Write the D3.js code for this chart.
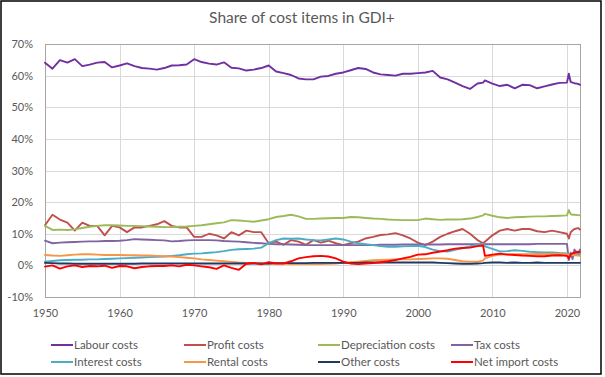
<!DOCTYPE html>
<html>
<head>
<meta charset="utf-8">
<script src="https://cdn.jsdelivr.net/npm/d3@7"></script>
<style>
  body { margin: 0; background: #fff; }
  svg { display: block; font-family: Lato, "Open Sans", sans-serif; }
</style>
</head>
<body>
<div id="chart"></div>
<script>
// time points (annual, quarterly around the 2008/09 break and 2020-21)
const years = [
  1950, 1951, 1952, 1953, 1954, 1955, 1956, 1957, 1958, 1959,
  1960, 1961, 1962, 1963, 1964, 1965, 1966, 1967, 1968, 1969,
  1970, 1971, 1972, 1973, 1974, 1975, 1976, 1977, 1978, 1979,
  1980, 1981, 1982, 1983, 1984, 1985, 1986, 1987, 1988, 1989,
  1990, 1991, 1992, 1993, 1994, 1995, 1996, 1997, 1998, 1999,
  2000, 2001, 2002, 2003, 2004, 2005, 2006, 2007, 2008, 2008.75,
  2009, 2010, 2011, 2012, 2013, 2014, 2015, 2016, 2017, 2018, 2019,
  2020, 2020.25, 2020.5, 2020.75, 2021, 2021.5, 2021.75
];

const labour = [
  64.1, 62.2, 64.9, 64.1, 65.2, 63.0, 63.5, 64.1, 64.3, 62.6,
  63.2, 63.9, 63.0, 62.4, 62.2, 61.9, 62.4, 63.2, 63.3, 63.5,
  65.2, 64.3, 63.8, 63.5, 64.2, 62.5, 62.3, 61.6, 61.9, 62.4,
  63.2, 61.3, 60.8, 60.2, 59.1, 58.8, 58.8, 59.7, 59.9, 60.6,
  61.0, 61.7, 62.4, 62.1, 61.0, 60.4, 60.2, 60.0, 60.6, 60.6,
  60.8, 61.0, 61.5, 59.4, 58.8, 57.8, 56.7, 55.8, 57.5, 57.8,
  58.5, 57.5, 56.7, 57.1, 56.0, 57.1, 57.0, 56.0, 56.6, 57.2, 57.7,
  57.8, 60.6, 58.0, 57.8, 57.6, 57.4, 57.1
];
const profit = [
  12.7, 16.0, 14.5, 13.5, 11.0, 13.5, 12.5, 12.5, 9.5, 12.5,
  12.0, 10.5, 12.0, 12.0, 12.5, 13.0, 14.0, 12.5, 12.0, 12.0,
  9.0, 9.0, 10.0, 9.5, 8.5, 10.5, 9.5, 11.0, 10.5, 10.5,
  7.0, 7.5, 6.5, 8.0, 7.5, 6.5, 8.0, 7.2, 7.8, 7.0,
  6.4, 7.0, 7.5, 8.5, 9.0, 9.6, 9.8, 10.2, 9.5, 8.5,
  7.2, 6.4, 7.5, 9.0, 10.0, 10.8, 11.5, 10.0, 8.0, 7.0,
  7.5, 9.5, 11.0, 11.5, 11.0, 11.5, 11.5, 10.8, 10.5, 11.0, 10.5,
  10.0, 8.5, 10.5, 11.0, 11.5, 11.8, 11.3
];
const depreciation = [
  12.5, 11.2, 11.3, 11.2, 11.4, 11.8, 12.2, 12.5, 12.7, 12.7,
  12.6, 12.5, 12.5, 12.4, 12.3, 12.2, 12.1, 12.1, 12.2, 12.3,
  12.5, 12.7, 13.0, 13.3, 13.6, 14.3, 14.2, 14.0, 13.8, 14.2,
  14.6, 15.3, 15.6, 16.0, 15.5, 14.7, 14.7, 14.8, 14.9, 15.0,
  15.0, 15.3, 15.2, 15.0, 14.8, 14.7, 14.5, 14.4, 14.3, 14.3,
  14.3, 14.8, 14.6, 14.4, 14.5, 14.5, 14.6, 14.8, 15.3, 15.8,
  16.3, 15.7, 15.2, 15.0, 15.2, 15.3, 15.4, 15.5, 15.5, 15.6, 15.7,
  15.8, 17.5, 16.2, 16.0, 16.0, 15.9, 15.8
];
const tax = [
  7.8, 7.0, 7.2, 7.3, 7.4, 7.5, 7.6, 7.6, 7.7, 7.7,
  7.8, 8.0, 8.3, 8.2, 8.1, 8.0, 7.9, 7.6, 7.7, 7.9,
  8.0, 8.0, 8.0, 7.9, 7.7, 7.6, 7.5, 7.3, 7.1, 7.0,
  6.8, 6.7, 6.7, 6.6, 6.5, 6.4, 6.4, 6.4, 6.4, 6.4,
  6.4, 6.4, 6.4, 6.4, 6.4, 6.5, 6.5, 6.5, 6.6, 6.6,
  6.6, 6.6, 6.6, 6.6, 6.7, 6.7, 6.7, 6.7, 6.7, 6.7,
  6.7, 6.7, 6.7, 6.7, 6.7, 6.7, 6.7, 6.8, 6.8, 6.8, 6.8,
  6.8, 1.7, 4.0, 2.0, 5.0, 3.5, 5.0
];
const interest = [
  1.2, 1.4, 1.6, 1.7, 1.8, 1.8, 1.9, 1.9, 2.0, 2.1,
  2.2, 2.3, 2.4, 2.5, 2.6, 2.7, 2.8, 3.0, 3.2, 3.5,
  3.7, 3.8, 4.0, 4.2, 4.5, 4.9, 5.1, 5.2, 5.3, 5.6,
  7.0, 8.0, 8.5, 8.4, 8.5, 8.2, 8.0, 7.9, 8.2, 8.5,
  8.2, 7.5, 7.0, 6.7, 6.4, 6.1, 5.9, 5.9, 6.0, 6.1,
  6.2, 5.8, 5.0, 4.5, 4.4, 4.9, 5.5, 6.0, 6.6, 6.8,
  6.0, 5.2, 4.4, 4.5, 4.8, 4.6, 4.3, 4.2, 4.1, 4.1, 3.9,
  3.8, 3.6, 3.7, 3.7, 3.6, 3.5, 3.5
];
const rental = [
  3.3, 3.1, 3.0, 3.2, 3.4, 3.5, 3.5, 3.4, 3.3, 3.3,
  3.3, 3.2, 3.2, 3.1, 3.1, 3.0, 2.9, 2.8, 2.6, 2.4,
  2.2, 1.9, 1.7, 1.5, 1.3, 1.1, 0.9, 0.8, 0.7, 0.6,
  0.5, 0.5, 0.5, 0.4, 0.4, 0.4, 0.4, 0.4, 0.5, 0.6,
  0.8, 1.0, 1.2, 1.4, 1.6, 1.7, 1.8, 1.9, 1.9, 1.9,
  2.0, 2.1, 2.2, 2.2, 2.1, 1.7, 1.3, 1.2, 1.2, 1.5,
  2.2, 3.0, 3.4, 3.5, 3.5, 3.5, 3.5, 3.6, 3.6, 3.6, 3.6,
  3.5, 3.3, 3.4, 3.3, 3.2, 3.1, 3.0
];
const other = [
  0.8, 0.7, 0.6, 0.6, 0.5, 0.5, 0.5, 0.5, 0.5, 0.5,
  0.5, 0.5, 0.5, 0.6, 0.6, 0.6, 0.6, 0.6, 0.6, 0.6,
  0.6, 0.6, 0.6, 0.6, 0.6, 0.6, 0.6, 0.6, 0.6, 0.6,
  0.6, 0.7, 0.7, 0.7, 0.7, 0.7, 0.8, 0.8, 0.8, 0.8,
  0.8, 0.8, 0.8, 0.9, 0.9, 0.9, 0.9, 0.9, 0.9, 0.9,
  0.9, 0.9, 0.9, 0.8, 0.7, 0.6, 0.5, 0.5, 0.6, 0.7,
  0.8, 0.9, 0.9, 0.8, 0.9, 0.8, 0.8, 0.9, 0.8, 0.8, 0.8,
  0.8, 0.8, 0.8, 0.8, 0.8, 0.8, 0.8
];
const netImport = [
  -0.4, 0.0, -1.0, -0.3, 0.0, -0.5, -0.2, -0.3, -0.1, -0.8,
  -0.2, -0.3, -0.9, -0.5, -0.3, -0.2, -0.2, 0.0, -0.3, 0.2,
  0.0, -0.3, -0.6, -1.1, 0.0, -0.8, -1.4, 0.5, 0.8, 0.3,
  1.0, 0.6, 0.6, 1.3, 2.2, 2.6, 2.9, 3.0, 2.8, 2.2,
  1.2, 0.6, 0.4, 0.6, 0.7, 1.0, 1.3, 1.7, 2.2, 2.7,
  3.4, 3.5, 4.0, 4.4, 4.8, 5.3, 5.5, 5.6, 6.1, 6.3,
  3.0, 3.4, 3.7, 3.4, 3.3, 3.1, 3.0, 2.9, 2.9, 3.1, 3.2,
  3.0, 2.2, 3.5, 3.8, 4.0, 4.3, 4.2
];

const seriesNames = ['Labour costs', 'Profit costs', 'Depreciation costs', 'Tax costs',
                     'Interest costs', 'Rental costs', 'Other costs', 'Net import costs'];
const seriesValues = [labour, profit, depreciation, tax, interest, rental, other, netImport];
const seriesColors = ['#7030A0', '#C0504D', '#9BBB59', '#8064A2',
                      '#4BACC6', '#F79646', '#1F3864', '#FF0000'];

const xTicks = [1950, 1960, 1970, 1980, 1990, 2000, 2010, 2020];
const yTicks = [-10, 0, 10, 20, 30, 40, 50, 60, 70];

const W = 605, H = 377;
const plot = { left: 45, right: 580, top: 44, bottom: 297 };

const svg = d3.select('#chart').append('svg')
    .attr('width', W)
    .attr('height', H);

svg.append('rect')
    .attr('width', W).attr('height', H)
    .attr('fill', '#fff');

// outer frame
svg.append('rect')
    .attr('x', 1).attr('y', 1)
    .attr('width', 600).attr('height', 373)
    .attr('fill', 'none')
    .attr('stroke', '#000')
    .attr('stroke-width', 1.5);

const x = d3.scaleLinear().domain([1950, 2021.75]).range([plot.left, plot.right]);
const y = d3.scaleLinear().domain([-10, 70]).range([plot.bottom, plot.top]);

// gridlines
const grid = svg.append('g');
grid.selectAll('line.h')
  .data(yTicks)
  .join('line')
    .attr('class', 'h')
    .attr('x1', plot.left).attr('x2', plot.right)
    .attr('y1', d => Math.round(y(d)) + 0.5).attr('y2', d => Math.round(y(d)) + 0.5)
    .attr('stroke', '#d9d9d9');
grid.selectAll('line.v')
  .data(xTicks)
  .join('line')
    .attr('class', 'v')
    .attr('x1', d => Math.round(x(d)) + 0.5).attr('x2', d => Math.round(x(d)) + 0.5)
    .attr('y1', plot.top).attr('y2', plot.bottom)
    .attr('stroke', '#d9d9d9');

// plot area border
svg.append('rect')
    .attr('x', plot.left + 0.5).attr('y', plot.top + 0.5)
    .attr('width', plot.right - plot.left).attr('height', plot.bottom - plot.top)
    .attr('fill', 'none')
    .attr('stroke', '#a6a6a6');

// axes labels
const yAxis = d3.axisLeft(y).tickValues(yTicks).tickSize(0).tickPadding(12)
    .tickFormat(d => d + '%');
svg.append('g')
    .attr('transform', `translate(${plot.left},0)`)
    .call(yAxis)
    .call(g => g.select('.domain').remove())
    .call(g => g.selectAll('text')
        .attr('fill', '#595959')
        .style('font-size', '11px')
        .style('font-family', 'Lato, "Open Sans", sans-serif'));

const xAxis = d3.axisBottom(x).tickValues(xTicks).tickSize(0).tickPadding(12)
    .tickFormat(d3.format('d'));
svg.append('g')
    .attr('transform', `translate(0,${plot.bottom})`)
    .call(xAxis)
    .call(g => g.select('.domain').remove())
    .call(g => g.selectAll('text')
        .attr('fill', '#595959')
        .style('font-size', '11px')
        .style('font-family', 'Lato, "Open Sans", sans-serif'));

// series lines
const line = d3.line()
    .x((d, i) => x(years[i]))
    .y(d => y(d));

svg.append('g')
  .selectAll('path')
  .data(seriesValues)
  .join('path')
    .attr('d', d => line(d))
    .attr('fill', 'none')
    .attr('stroke', (d, i) => seriesColors[i])
    .attr('stroke-width', 1.9)
    .attr('stroke-linejoin', 'round')
    .attr('stroke-linecap', 'round');

// title
svg.append('text')
    .attr('x', 302).attr('y', 23)
    .attr('text-anchor', 'middle')
    .attr('fill', '#595959')
    .style('font-size', '15.5px')
    .text('Share of cost items in GDI+');

// legend, two rows of four
const legendCols = [51, 184, 318, 451];
const legendRows = [345, 362];
const legend = svg.append('g')
  .selectAll('g')
  .data(seriesNames)
  .join('g')
    .attr('transform', (d, i) => `translate(${legendCols[i % 4]},${legendRows[Math.floor(i / 4)]})`);

legend.append('line')
    .attr('x1', 0).attr('x2', 22)
    .attr('stroke', (d, i) => seriesColors[i])
    .attr('stroke-width', 2);

legend.append('text')
    .attr('x', 23).attr('dy', '0.35em')
    .attr('fill', '#595959')
    .style('font-size', '11.5px')
    .text(d => d);
</script>
</body>
</html>
